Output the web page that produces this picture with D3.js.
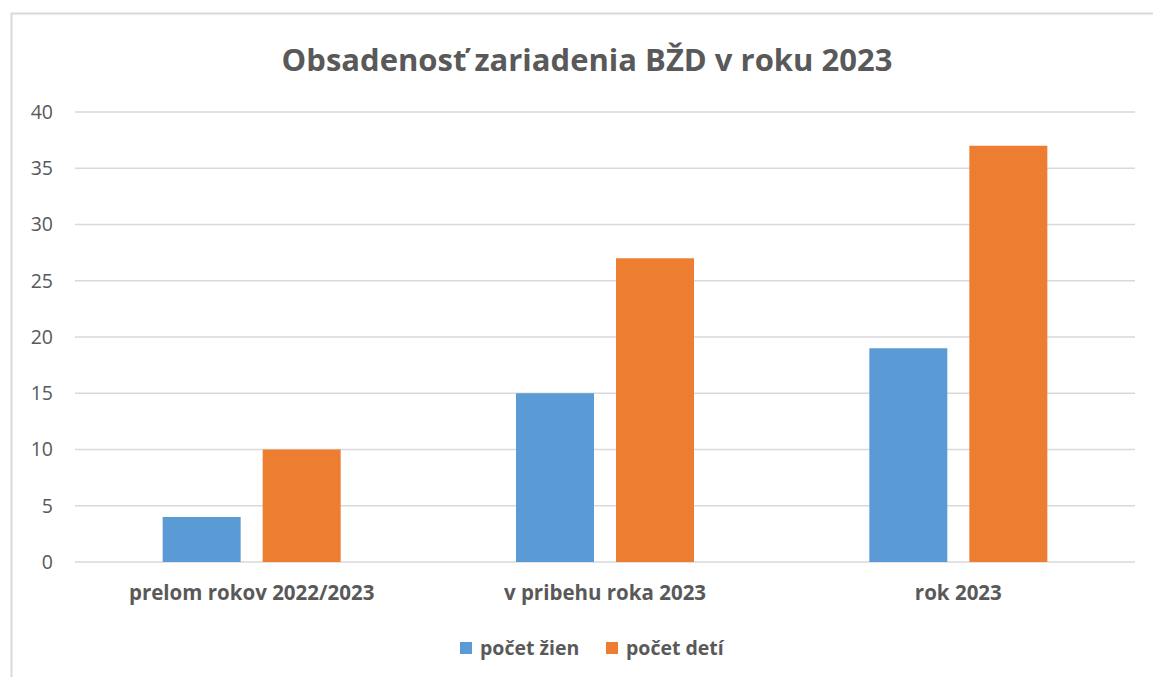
<!DOCTYPE html>
<html>
<head>
<meta charset="utf-8">
<script src="https://cdn.jsdelivr.net/npm/d3@7"></script>
<style>
  body { margin: 0; background: #fff; }
  svg { font-family: "Open Sans", sans-serif; }
</style>
</head>
<body>
<div id="chart"></div>
<script>
const categories = ["prelom rokov 2022/2023", "v pribehu roka 2023", "rok 2023"];
const seriesNames = ["počet žien", "počet detí"];
const zeny = [4, 15, 19];
const deti = [10, 27, 37];
const yTicks = [0, 5, 10, 15, 20, 25, 30, 35, 40];
const colors = ["#5b9bd5", "#ed7d31"];

const width = 1153, height = 677;
const plotLeft = 75, plotRight = 1135, plotTop = 112, plotBottom = 562;

const svg = d3.select("#chart").append("svg")
    .attr("width", width)
    .attr("height", height);

// chart border
svg.append("rect")
    .attr("x", 11.5).attr("y", 13.5)
    .attr("width", 1160).attr("height", 700)
    .attr("fill", "none")
    .attr("stroke", "#d9d9d9")
    .attr("stroke-width", 2);

svg.append("text")
    .attr("x", 587).attr("y", 71)
    .attr("text-anchor", "middle")
    .attr("font-size", 31)
    .attr("font-weight", "bold")
    .attr("fill", "#595959")
    .text("Obsadenosť zariadenia BŽD v roku 2023");

const y = d3.scaleLinear().domain([0, 40]).range([plotBottom, plotTop]);
const x0 = d3.scaleBand().domain(categories).range([plotLeft, plotRight]).paddingInner(0).paddingOuter(0);

// gridlines
svg.append("g")
    .selectAll("line")
    .data(yTicks)
    .join("line")
    .attr("x1", plotLeft).attr("x2", plotRight)
    .attr("y1", d => y(d)).attr("y2", d => y(d))
    .attr("stroke", "#d9d9d9")
    .attr("stroke-width", 1.5);

const yAxis = svg.append("g")
    .attr("transform", `translate(${plotLeft},0)`)
    .call(d3.axisLeft(y).tickValues(yTicks).tickSize(0).tickPadding(22));
yAxis.select(".domain").remove();
yAxis.selectAll("text")
    .attr("font-size", 19.5)
    .attr("font-family", "'Open Sans', sans-serif")
    .attr("fill", "#595959");

const xAxis = svg.append("g")
    .attr("transform", `translate(0,${plotBottom})`)
    .call(d3.axisBottom(x0).tickSize(0).tickPadding(23));
xAxis.select(".domain").remove();
xAxis.selectAll("text")
    .attr("font-size", 20.5)
    .attr("font-weight", "bold")
    .attr("font-family", "'Open Sans', sans-serif")
    .attr("fill", "#595959");

// bars: width 78, gap 22 inside each group
const barW = 78, gap = 22;
const rows = categories.map((c, i) => ({ cat: c, vals: [zeny[i], deti[i]] }));

const groups = svg.append("g")
    .selectAll("g")
    .data(rows)
    .join("g")
    .attr("transform", d => `translate(${x0(d.cat) + x0.bandwidth() / 2},0)`);

groups.selectAll("rect")
    .data(d => d.vals.map((v, k) => ({ v, k })))
    .join("rect")
    .attr("x", d => d.k === 0 ? -(barW + gap / 2) : gap / 2)
    .attr("y", d => y(d.v))
    .attr("width", barW)
    .attr("height", d => y(0) - y(d.v))
    .attr("fill", d => colors[d.k]);

// legend
const legendPos = [460, 606];
const legend = svg.append("g")
    .selectAll("g")
    .data(seriesNames)
    .join("g")
    .attr("transform", (d, i) => `translate(${legendPos[i]},642)`);
legend.append("rect")
    .attr("width", 12).attr("height", 12)
    .attr("fill", (d, i) => colors[i]);
legend.append("text")
    .attr("x", 20).attr("y", 13)
    .attr("font-size", 19.5)
    .attr("font-weight", "bold")
    .attr("fill", "#595959")
    .text(d => d);
</script>
</body>
</html>
